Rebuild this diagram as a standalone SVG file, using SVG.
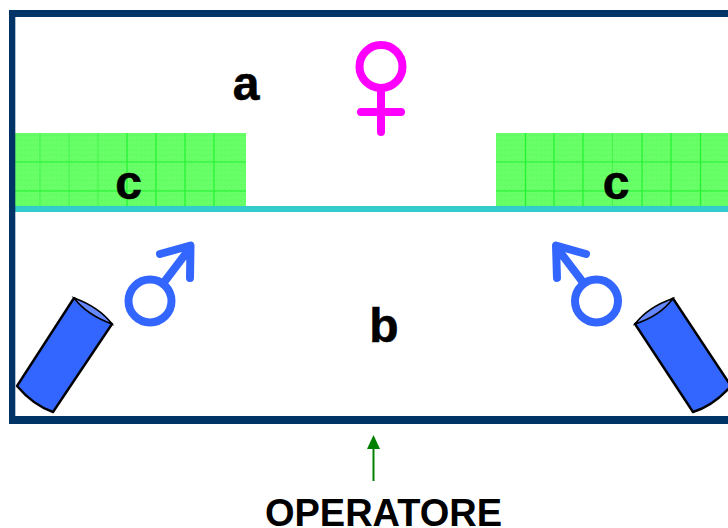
<svg xmlns="http://www.w3.org/2000/svg" width="728" height="528" viewBox="0 0 728 528">
  <style>
    text { font-family: "Liberation Sans", Arial, sans-serif; font-weight: bold; fill: #000; text-anchor: middle; }
    .label { font-size: 48px; stroke: #000; stroke-width: 0.6; }
    .male { fill: none; stroke: #3366ff; stroke-width: 8; stroke-linecap: round; stroke-linejoin: round; }
    .female { fill: none; stroke: #ff00ff; stroke-width: 8; stroke-linecap: round; }
    .body { fill: #3366ff; stroke: #000; stroke-width: 2.4; stroke-linejoin: round; }
    .lens { fill: #6688ff; stroke: #000; stroke-width: 1.6; }
    .grid { stroke: #22f230; stroke-width: 1.2; }
    .grid-faint { stroke: #44f54c; stroke-width: 1; }
  </style>
  <defs>
    <!-- fine speckle for the green panels -->
    <pattern id="speckle" width="5" height="5" patternUnits="userSpaceOnUse">
      <rect width="5" height="5" fill="#66ff66"/>
      <rect x="1" y="0" width="1" height="1" fill="#5cf961"/>
      <rect x="3" y="2" width="1" height="1" fill="#74ff76"/>
      <rect x="0" y="3" width="1" height="1" fill="#74ff76"/>
      <rect x="4" y="4" width="1" height="1" fill="#5cf961"/>
    </pattern>
    <marker id="head" markerUnits="userSpaceOnUse" markerWidth="14" markerHeight="15" refX="0" refY="6.5" orient="auto">
      <path d="M0 0L14 6.5L0 13Z" fill="#008000"/>
    </marker>
  </defs>

  <g id="panel-left">
    <rect x="15" y="133" width="231" height="74" fill="url(#speckle)"/>
    <path class="grid-faint" d="M40 133V207M69 133V207M98 133V207"/>
    <path class="grid" d="M127 133V207M156 133V207M185 133V207M214 133V207M15 162H246M15 191H246"/>
  </g>
  <g id="panel-right">
    <rect x="496" y="133" width="232" height="74" fill="url(#speckle)"/>
    <path class="grid-faint" d="M612.500 133V207"/>
    <path class="grid" d="M525.500 133V207M554 133V207M583 133V207M642 133V207M671 133V207M700.500 133V207M496 162H728M496 191H728"/>
  </g>

  <g id="partition"><rect x="15" y="206" width="713" height="6" fill="#33cccc"/></g>
  <!-- room outline, open past the right edge -->
  <g id="frame"><path d="M728 10H9V424H728V416H15.300V17H728Z" fill="#003366"/></g>

  <g id="label-a"><text class="label" x="246" y="99.500">a</text></g>
  <g id="label-b"><text class="label" x="384" y="342">b</text></g>
  <g id="label-c-left"><text class="label" x="128.500" y="198.500">c</text></g>
  <g id="label-c-right"><text class="label" x="616" y="198.500">c</text></g>

  <g id="female">
    <circle class="female" cx="381" cy="66.500" r="21.500"/>
    <path class="female" d="M381 88V132M361 112H401"/>
  </g>
  <g id="male-left">
    <circle class="male" cx="150" cy="301" r="21.500"/>
    <path class="male" d="M165 281L190 248M160 254L190.500 245.500L190 278"/>
  </g>
  <g id="male-right">
    <circle class="male" cx="596.500" cy="301" r="21.500"/>
    <path class="male" d="M582 281L557 248M586 254L556 245.500L557 278"/>
  </g>

  <g id="cylinder-left">
    <path class="body" d="M74 298L112 324L53 412Q33 405 17 386Z"/>
    <path class="lens" d="M74 298Q99 307 112 324Q87 315 74 298Z"/>
  </g>
  <g id="cylinder-right">
    <path class="body" d="M673 298.500L635 324L693 412Q713 406 731 386Z"/>
    <path class="lens" d="M673 298.500Q648 307 635 324Q660 316 673 298.500Z"/>
  </g>

  <g id="connectors">
    <path d="M373.500 481V449" fill="none" stroke="#008000" stroke-width="2" marker-end="url(#head)"/>
  </g>
  <g id="operator"><text x="383.500" y="526" font-size="38">OPERATORE</text></g>
</svg>
